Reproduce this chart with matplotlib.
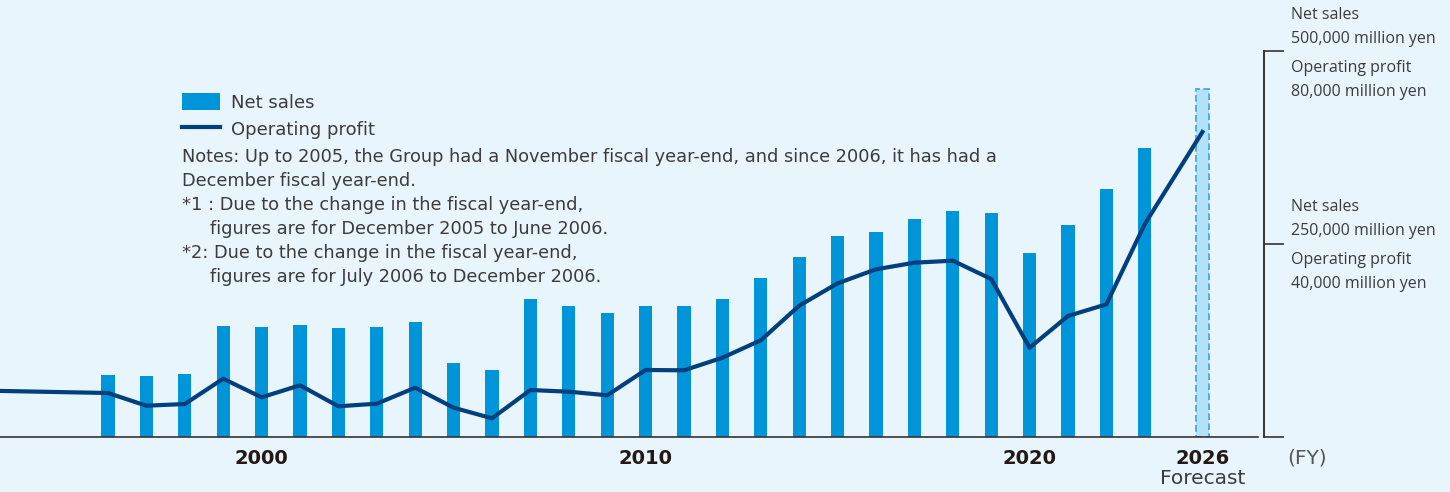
import numpy as np
import matplotlib
matplotlib.use("Agg")
import matplotlib.pyplot as plt
from matplotlib.patches import Patch
from matplotlib.lines import Line2D

# periods shown as bars (*1 / *2 are the two transition periods of 2006)
periods = (["1996", "1997", "1998", "1999", "2000", "2001", "2002", "2003", "2004", "*1", "*2"]
           + [str(y) for y in range(2007, 2024)])
# net sales, million yen
net_sales = [80000, 79000, 81500, 143700, 142400, 145000, 141100, 142400, 148800, 95800, 86700,
             178600, 169600, 160500, 169600, 169600, 178600, 205800, 233000, 260200, 265300,
             282200, 292500, 289900, 238200, 274400, 321000, 374100]
# operating profit, million yen
op_profit = [9110, 6480, 6830, 12070, 8220, 10710, 6360, 6900, 10210, 6070, 3870,
             9730, 9380, 8640, 13880, 13810, 16420, 20030, 27190, 31830, 34730,
             36100, 36510, 32720, 18490, 25060, 27480, 44110]
early_profit = 9570          # earlier year, line enters from the left edge
forecast_label = "2026"
forecast_sales = 450000
forecast_profit = 63170

tick_years = ["2000", "2010", "2020"]

right_labels = [("Net sales", 15), ("500,000 million yen", 39),
                ("Operating profit", 68), ("80,000 million yen", 92),
                ("Net sales", 207), ("250,000 million yen", 231),
                ("Operating profit", 260), ("40,000 million yen", 284)]

notes = [("Notes: Up to 2005, the Group had a November fiscal year-end, and since 2006, it has had a", 0),
         ("December fiscal year-end.", 0),
         ("*1 : Due to the change in the fiscal year-end,", 0),
         ("figures are for December 2005 to June 2006.", 1),
         ("*2: Due to the change in the fiscal year-end,", 0),
         ("figures are for July 2006 to December 2006.", 1)]

BG = "#e8f5fd"
BAR = "#0095d9"
LINE = "#003f7d"
TXT = "#3c3c3c"

W, H = 1450, 492
fig = plt.figure(figsize=(W / 100, H / 100), dpi=100)
fig.patch.set_facecolor(BG)

ax = fig.add_axes([0, 55 / H, 1258 / W, 386.3 / H])
ax.set_facecolor("none")

x = np.arange(len(periods))
x_fc = len(periods) + 0.5
bw = 0.34

ax.bar(x, net_sales, width=bw, color=BAR, zorder=2)
ax.bar(x_fc, forecast_sales, width=bw, facecolor="#b3e1f7", edgecolor="#3aa3e0",
       linestyle=(0, (4, 2)), linewidth=1.2, zorder=2)
ax.set_xlim(-108 / 38.4, (1258 - 108) / 38.4)
ax.set_ylim(0, 500000)

for s in ["top", "left", "right"]:
    ax.spines[s].set_visible(False)
ax.spines["bottom"].set_color("#333333")
ax.spines["bottom"].set_linewidth(1.2)
ax.set_yticks([])

tick_pos = [periods.index(t) for t in tick_years] + [x_fc]
ax.set_xticks(tick_pos, tick_years + [forecast_label])
ax.tick_params(axis="x", length=0, pad=9, labelsize=14, labelcolor="#231815")
for lab in ax.get_xticklabels():
    lab.set_fontweight("bold")
ax.text(x_fc, -0.108, "Forecast", transform=ax.get_xaxis_transform(),
        ha="center", va="center", fontsize=14.5, color=TXT)

ax2 = ax.twinx()
ax2.set_ylim(0, 80000)
ax2.plot(np.r_[-3, x, x_fc], [early_profit] + op_profit + [forecast_profit],
         color=LINE, linewidth=3, solid_joinstyle="round", zorder=3)
for s in ["top", "left", "bottom"]:
    ax2.spines[s].set_visible(False)
ax2.spines["right"].set_position(("outward", 4.5))
ax2.spines["right"].set_color("#333333")
ax2.spines["right"].set_linewidth(1.4)
ax2.set_yticks([0, 40000, 80000])
ax2.tick_params(axis="y", length=14.4, width=1.2, color="#333333", labelright=False)

for txt, yp in right_labels:
    fig.text(1291 / W, 1 - yp / H, txt, ha="left", va="center", fontsize=11.5,
             color=TXT, family="Open Sans")
fig.text(1287 / W, 1 - 458 / H, "(FY)", ha="left", va="center", fontsize=14.5, color="#555555")

handles = [Patch(facecolor=BAR), Line2D([], [], color=LINE, linewidth=3)]
ax.legend(handles, ["Net sales", "Operating profit"], loc="upper left",
          bbox_to_anchor=(182 / W, 1 - 93 / H), bbox_transform=fig.transFigure,
          frameon=False, fontsize=13, handlelength=2.1, handleheight=1.1,
          handletextpad=0.6, labelspacing=0.45, borderpad=0, borderaxespad=0,
          labelcolor=TXT)

for i, (txt, ind) in enumerate(notes):
    fig.text((182 + 28 * ind) / W, 1 - (157 + 24 * i) / H, txt, ha="left", va="center",
             fontsize=12.8, color=TXT)

fig.savefig("out.png", dpi=100, facecolor=BG)
